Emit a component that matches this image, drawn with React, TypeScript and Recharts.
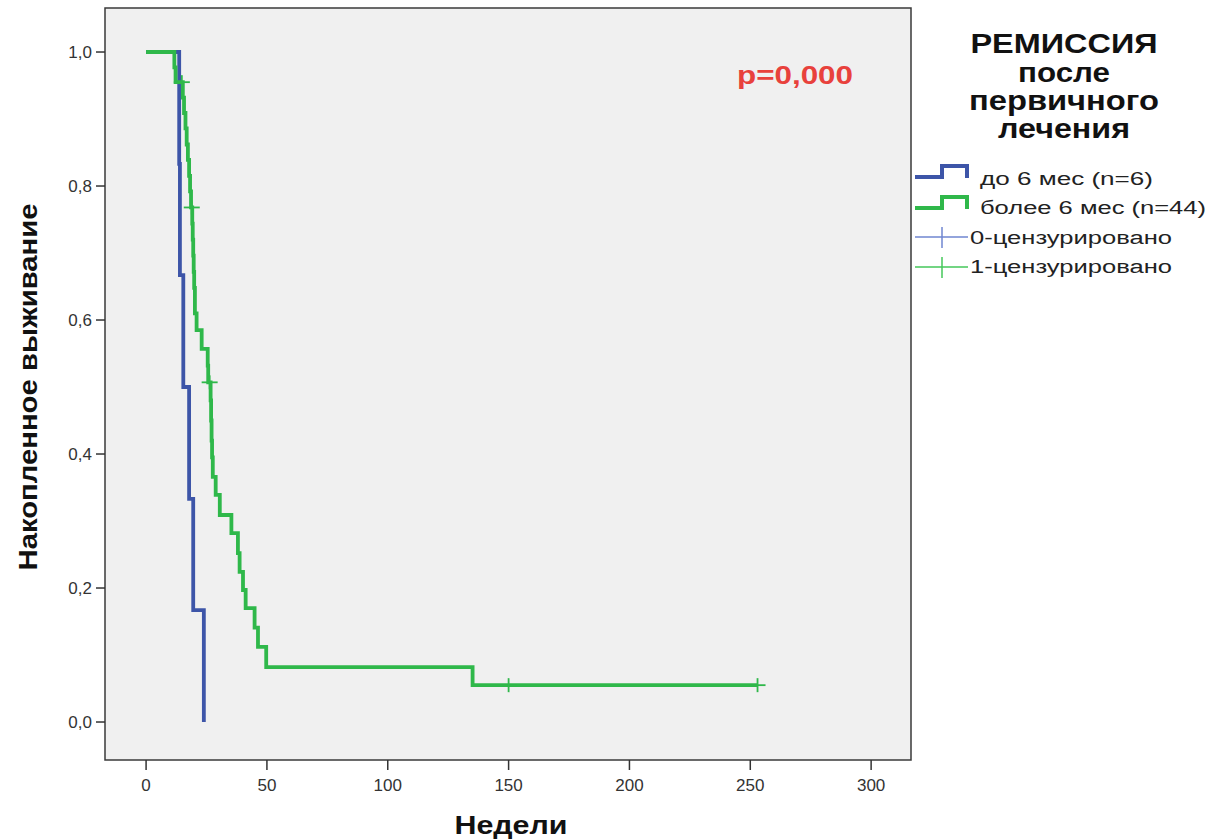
import React from 'react';
import { ComposedChart, Line, Scatter, XAxis, YAxis, ReferenceArea, Legend, Label } from 'recharts';

// ---- data ----
const blueTimes = [0, 13.7, 14.0, 15.4, 17.8, 19.5, 23.9];
const blueSurv = [1.0, 0.833, 0.667, 0.5, 0.333, 0.167, 0.0];

const greenTimes = [0, 11.7, 12.2, 15.2, 15.7, 16.3, 16.8, 17.3, 17.8, 18.2, 18.6, 19.1, 19.3, 19.5, 19.7, 19.9, 20.2, 20.9, 23.0, 25.5, 25.7, 26.7, 26.9, 27.1, 27.3, 27.6, 28.8, 30.5, 35.3, 38.0, 38.7, 40.1, 41.2, 44.9, 46.3, 49.7, 135.1, 253];
const greenSurv = [1.0, 0.977, 0.955, 0.932, 0.909, 0.886, 0.862, 0.839, 0.815, 0.792, 0.768, 0.744, 0.72, 0.696, 0.672, 0.648, 0.61, 0.585, 0.557, 0.532, 0.507, 0.48, 0.45, 0.42, 0.395, 0.366, 0.339, 0.309, 0.282, 0.252, 0.224, 0.197, 0.17, 0.141, 0.112, 0.082, 0.055, 0.055];

const greenCensorTimes = [14.8, 18.9, 26.3, 150, 253];
const greenCensorSurv = [0.955, 0.768, 0.507, 0.055, 0.055];

const xTicks = [0, 50, 100, 150, 200, 250, 300];
const yTicks = [0, 0.2, 0.4, 0.6, 0.8, 1.0];

const legendTitle = ['РЕМИССИЯ', 'после', 'первичного', 'лечения'];
const groupLabels = ['до 6 мес (n=6)', 'более 6 мес (n=44)'];
const censorLabels = ['0-цензурировано', '1-цензурировано'];
const xTitle = 'Недели';
const yTitle = 'Накопленное выживание';
const pText = 'p=0,000';

const X_DOMAIN: [number, number] = [-17, 316.5];
const Y_DOMAIN: [number, number] = [-0.0567, 1.0657];

const BLUE = '#3D55A8';
const GREEN = '#2FB84A';
const BLUE_LIGHT = '#6F86D0';
const GREEN_LIGHT = '#45C75A';
const FONT = "'Liberation Sans', Arial, sans-serif";

const blueData = blueTimes.map((t, i) => ({ t, s: blueSurv[i] }));
const greenData = greenTimes.map((t, i) => ({ t, s: greenSurv[i] }));
const greenCensor = greenCensorTimes.map((t, i) => ({ t, s: greenCensorSurv[i] }));

const fmt = (v: number) => v.toFixed(1).replace('.', ',');

const CensorMark = (props: any) => {
  const { cx, cy } = props;
  if (cx == null || cy == null) return null;
  return (
    <g>
      <line x1={cx - 8} x2={cx + 8} y1={cy} y2={cy} stroke={GREEN} strokeWidth={1.8} />
      <line x1={cx} x2={cx} y1={cy - 7} y2={cy + 7} stroke={GREEN} strokeWidth={1.8} />
    </g>
  );
};

const LegendBox = () => {
  const titleY = [53, 82, 110, 138];
  const titleW = [187, 92, 190, 132];
  return (
    <svg width={305} height={290} style={{ display: 'block' }}>
      <g transform="translate(-905,0)">
        {legendTitle.map((t, i) => (
          <text key={t} x={1064} y={titleY[i]} textAnchor="middle" fontFamily={FONT} fontWeight="bold" fontSize={27}
            fill="#111" textLength={titleW[i]} lengthAdjust="spacingAndGlyphs">{t}</text>
        ))}
        <path d="M915,177 H942 V166 H967 V178" fill="none" stroke={BLUE} strokeWidth={4} />
        <text x={980} y={185} fontFamily={FONT} fontSize={18} fill="#222" textLength={173} lengthAdjust="spacingAndGlyphs">{groupLabels[0]}</text>
        <path d="M915,208 H942 V197 H967 V209" fill="none" stroke={GREEN} strokeWidth={4} />
        <text x={980} y={214} fontFamily={FONT} fontSize={18} fill="#222" textLength={226} lengthAdjust="spacingAndGlyphs">{groupLabels[1]}</text>
        <line x1={915} x2={968} y1={237} y2={237} stroke={BLUE_LIGHT} strokeWidth={1.5} />
        <line x1={942} x2={942} y1={227} y2={248} stroke={BLUE_LIGHT} strokeWidth={1.5} />
        <text x={970} y={244} fontFamily={FONT} fontSize={18} fill="#222" textLength={202} lengthAdjust="spacingAndGlyphs">{censorLabels[0]}</text>
        <line x1={915} x2={968} y1={267} y2={267} stroke={GREEN_LIGHT} strokeWidth={1.5} />
        <line x1={942} x2={942} y1={257} y2={278} stroke={GREEN_LIGHT} strokeWidth={1.5} />
        <text x={970} y={273} fontFamily={FONT} fontSize={18} fill="#222" textLength={202} lengthAdjust="spacingAndGlyphs">{censorLabels[1]}</text>
      </g>
    </svg>
  );
};

export default function App() {
  return (
    <div style={{ position: 'absolute', left: 0, top: 0, width: 1210, height: 840, background: '#fff' }}>
      <ComposedChart width={1210} height={840} margin={{ top: 8, right: 299, bottom: 0, left: 0 }}>
        <ReferenceArea x1={X_DOMAIN[0]} x2={X_DOMAIN[1]} y1={Y_DOMAIN[0]} y2={Y_DOMAIN[1]}
          fill="#F0F0F0" fillOpacity={1} stroke="#3a3a3a" strokeWidth={1.5} ifOverflow="visible" />
        <XAxis type="number" dataKey="t" domain={X_DOMAIN} ticks={xTicks} allowDataOverflow
          height={80} axisLine={false} tickSize={10} tickMargin={9}
          tickLine={{ stroke: '#333', strokeWidth: 1.5 }}
          tick={{ fontFamily: FONT, fontSize: 17, fill: '#333' }}>
          <Label content={() => (
            <g>
              <text x={511} y={834} textAnchor="middle" fontFamily={FONT} fontWeight="bold" fontSize={26} fill="#111"
                textLength={113} lengthAdjust="spacingAndGlyphs">{xTitle}</text>
              <text x={795} y={84} textAnchor="middle" fontFamily={FONT} fontWeight="bold" fontSize={25} fill="#E8413C"
                textLength={116} lengthAdjust="spacingAndGlyphs">{pText}</text>
            </g>
          )} />
        </XAxis>
        <YAxis type="number" dataKey="s" domain={Y_DOMAIN} ticks={yTicks} allowDataOverflow
          width={105} axisLine={false} tickSize={9} tickMargin={4} tickFormatter={fmt}
          tickLine={{ stroke: '#333', strokeWidth: 1.5 }}
          tick={{ fontFamily: FONT, fontSize: 17, fill: '#333' }}>
          <Label content={() => (
            <text x={37} y={387} textAnchor="middle" transform="rotate(-90 37 387)" fontFamily={FONT}
              fontWeight="bold" fontSize={26} fill="#111" textLength={367} lengthAdjust="spacingAndGlyphs">{yTitle}</text>
          )} />
        </YAxis>
        <Legend layout="vertical" align="center" verticalAlign="middle"
          wrapperStyle={{ position: 'absolute', left: 905, top: 0, width: 305, height: 290, margin: 0, padding: 0, lineHeight: 0 }}
          content={() => <LegendBox />} />
        <Line data={blueData} dataKey="s" type="stepAfter" stroke={BLUE} strokeWidth={3.8} dot={false}
          isAnimationActive={false} legendType="none" />
        <Line data={greenData} dataKey="s" type="stepAfter" stroke={GREEN} strokeWidth={3.8} dot={false}
          isAnimationActive={false} legendType="none" />
        <Scatter data={greenCensor} dataKey="s" shape={<CensorMark />} isAnimationActive={false} legendType="none" />
      </ComposedChart>
    </div>
  );
}
